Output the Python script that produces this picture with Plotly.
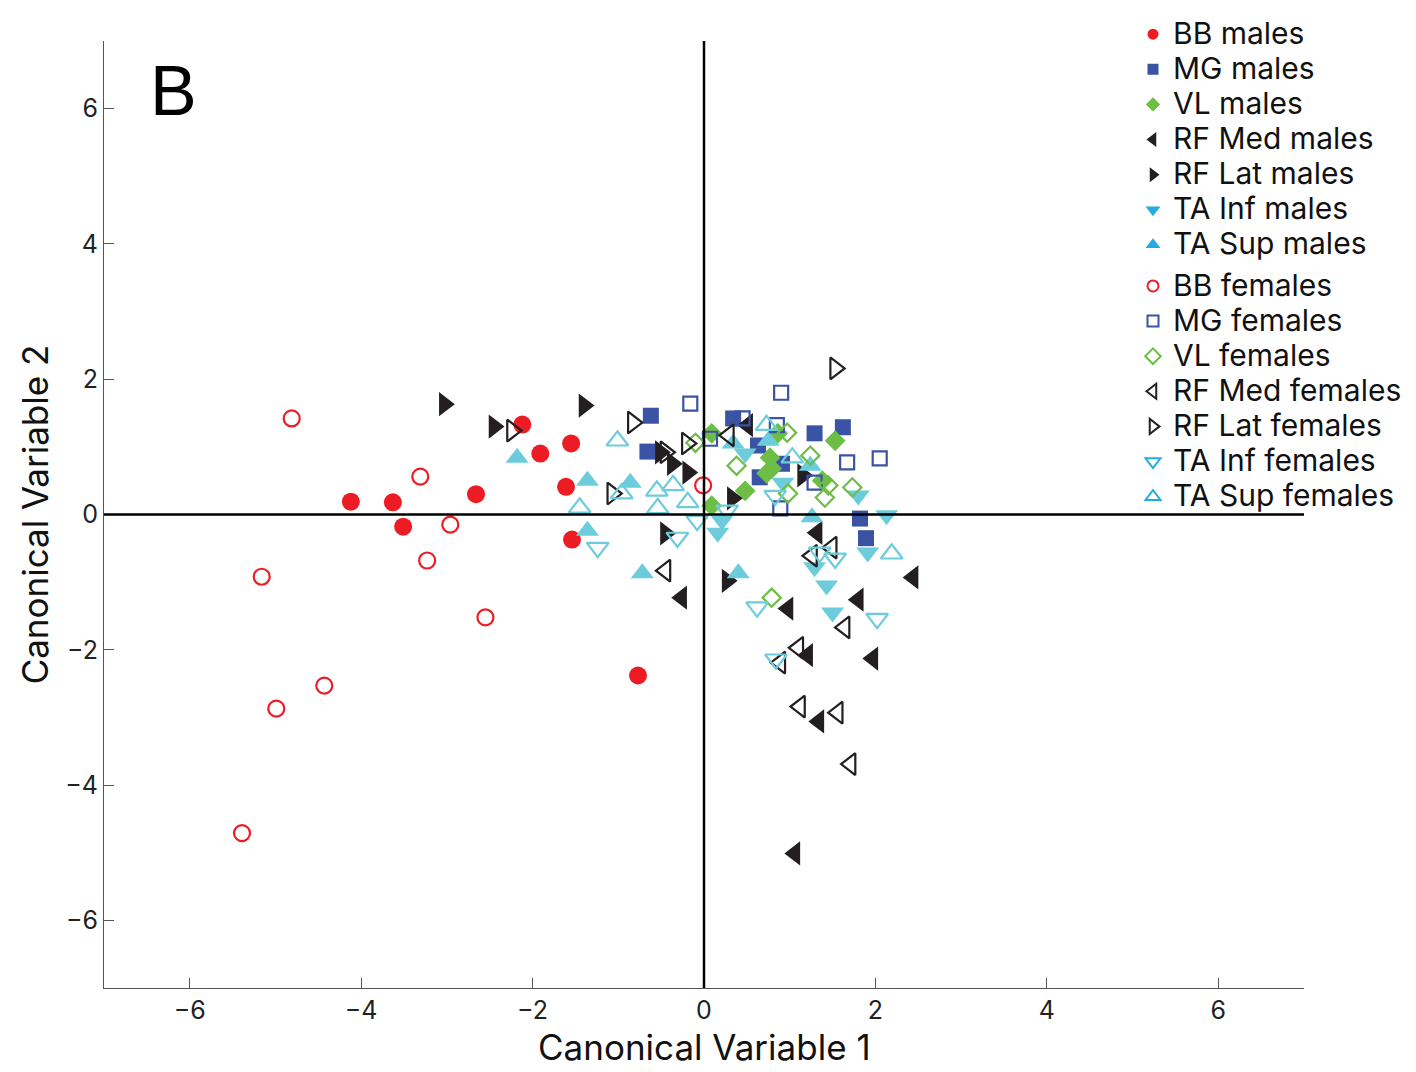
import plotly.graph_objects as go

# ---------------- data ----------------
bb_m_x = [-2.12, -1.91, -1.55, -1.61, -2.66, -4.12, -3.63, -3.51, -1.54, -0.77]
bb_m_y = [1.33, 0.90, 1.05, 0.41, 0.30, 0.19, 0.18, -0.18, -0.37, -2.38]

mg_m_x = [-0.62, -0.66, 0.34, 0.63, 0.65, 0.91, 1.29, 1.62, 1.82, 1.89]
mg_m_y = [1.46, 0.93, 1.42, 1.02, 0.55, 0.75, 1.20, 1.29, -0.06, -0.35]

vl_m_x = [0.09, 0.86, 1.53, 0.77, 0.79, 0.73, 1.38, 0.48, 0.09]
vl_m_y = [1.20, 1.20, 1.09, 0.84, 0.68, 0.61, 0.50, 0.35, 0.13]

rfmed_m_x = [0.51, 1.32, 2.44, -0.26, 0.98, 1.80, 1.21, 1.97, 1.34, 1.06]
rfmed_m_y = [1.32, -0.27, -0.93, -1.23, -1.39, -1.26, -2.08, -2.13, -3.06, -5.01]

rflat_m_x = [-3.03, -2.45, -1.40, -0.51, -0.37, -0.19, -0.45, 0.33, 1.15, 0.27]
rflat_m_y = [1.63, 1.30, 1.61, 0.92, 0.75, 0.62, -0.28, 0.24, 0.58, -0.98]

tainf_m_x = [0.16, 0.21, 0.48, 0.92, 1.80, 2.13, 1.91, 1.29, 1.43, 1.50]
tainf_m_y = [-0.27, -0.09, 0.90, 0.47, 0.28, -0.01, -0.56, -0.78, -1.05, -1.45]

tasup_m_x = [-2.18, -1.36, -1.36, -0.86, -0.72, 0.40, 1.26, 0.34, 0.75, 1.24]
tasup_m_y = [0.84, 0.50, -0.24, 0.47, -0.87, -0.87, -0.04, 1.05, 1.09, 0.72]

bb_f_x = [-4.81, -3.31, -2.96, -3.23, -5.16, -2.55, -4.43, -4.99, -5.39, -0.01]
bb_f_y = [1.42, 0.56, -0.15, -0.68, -0.92, -1.52, -2.53, -2.87, -4.71, 0.43]

mg_f_x = [-0.16, 0.90, 0.45, 0.85, 1.67, 2.05, 1.29, 0.89, 0.07]
mg_f_y = [1.64, 1.80, 1.42, 1.32, 0.77, 0.83, 0.47, 0.09, 1.12]

vl_f_x = [-0.10, 0.97, 0.38, 1.24, 1.45, 1.41, 1.73, 0.98, 0.79]
vl_f_y = [1.06, 1.21, 0.72, 0.87, 0.43, 0.25, 0.40, 0.31, -1.23]

rfmed_f_x = [0.29, -0.45, 1.49, 1.26, 1.64, 1.10, 0.89, 1.12, 1.56, 1.71]
rfmed_f_y = [1.17, -0.83, -0.49, -0.61, -1.67, -1.97, -2.19, -2.84, -2.93, -3.69]

rflat_f_x = [1.53, -2.24, -0.83, -1.07, -0.20, -0.45]
rflat_f_y = [2.16, 1.24, 1.36, 0.31, 1.05, 0.92]

tainf_f_x = [-1.24, -0.31, -0.08, 0.62, 0.84, 1.35, 1.53, 2.02, 0.83, 0.27]
tainf_f_y = [-0.49, -0.34, -0.09, -1.37, -2.14, -0.56, -0.65, -1.54, 0.28, 0.06]

tasup_f_x = [-1.01, -1.45, -0.96, -0.55, -0.54, -0.36, -0.19, 0.73, 1.03, 2.19]
tasup_f_y = [1.09, 0.10, 0.31, 0.35, 0.09, 0.43, 0.18, 1.32, 0.84, -0.58]

x_ticks = [-6, -4, -2, 0, 2, 4, 6]
y_ticks = [-6, -4, -2, 0, 2, 4, 6]

x_title = "Canonical Variable 1"
y_title = "Canonical Variable 2"

# ---------------- styles ----------------
RED = "#ED1C24"
BLUE = "#3A53A4"
GREEN = "#6CBE45"
BLACK = "#231F20"
CYAN = "#6DCCDB"
CYAN_LEG = "#27AAE1"

FONT = "Inter, Liberation Sans, Arial, sans-serif"
FONT_B = "Liberation Sans, Arial, Helvetica, sans-serif"

series = [
    ("BB males", bb_m_x, bb_m_y, "circle", RED, RED, 18, 11, "males"),
    ("MG males", mg_m_x, mg_m_y, "square", BLUE, BLUE, 16, 11, "males"),
    ("VL males", vl_m_x, vl_m_y, "diamond", GREEN, GREEN, 16, 11, "males"),
    ("RF Med males", rfmed_m_x, rfmed_m_y, "triangle-left", BLACK, BLACK, 21, 13, "males"),
    ("RF Lat males", rflat_m_x, rflat_m_y, "triangle-right", BLACK, BLACK, 21, 13, "males"),
    ("TA Inf males", tainf_m_x, tainf_m_y, "triangle-down", CYAN, CYAN_LEG, 20, 13, "males"),
    ("TA Sup males", tasup_m_x, tasup_m_y, "triangle-up", CYAN, CYAN_LEG, 20, 13, "males"),
    ("BB females", bb_f_x, bb_f_y, "circle-open", RED, RED, 16, 11, "females"),
    ("MG females", mg_f_x, mg_f_y, "square-open", BLUE, BLUE, 14, 11, "females"),
    ("VL females", vl_f_x, vl_f_y, "diamond-open", GREEN, GREEN, 14, 12, "females"),
    ("RF Med females", rfmed_f_x, rfmed_f_y, "triangle-left-open", BLACK, BLACK, 19, 13, "females"),
    ("RF Lat females", rflat_f_x, rflat_f_y, "triangle-right-open", BLACK, BLACK, 19, 13, "females"),
    ("TA Inf females", tainf_f_x, tainf_f_y, "triangle-down-open", CYAN, CYAN_LEG, 19, 13, "females"),
    ("TA Sup females", tasup_f_x, tasup_f_y, "triangle-up-open", CYAN, CYAN_LEG, 19, 13, "females"),
]

fig = go.Figure()

# data traces
for name, xs, ys, sym, col, lcol, size, lsize, grp in series:
    is_open = sym.endswith("-open")
    fig.add_trace(go.Scatter(
        x=xs, y=ys, mode="markers", name=name, showlegend=False,
        marker=dict(symbol=sym, color=col, size=size,
                    line=dict(width=2.2 if is_open else 0, color=col)),
        hoverinfo="x+y+name",
    ))

# legend-only entries (smaller markers, legend colours)
LEG_TEXT = 30
for name, xs, ys, sym, col, lcol, size, lsize, grp in series:
    is_open = sym.endswith("-open")
    fig.add_trace(go.Scatter(
        x=[None], y=[None], mode="markers",
        name='<span style="font-size:%dpx">%s</span>' % (LEG_TEXT, name),
        legendgroup=grp,
        marker=dict(symbol=sym, color=lcol, size=lsize,
                    line=dict(width=2 if is_open else 0, color=lcol)),
    ))

axis_common = dict(
    showgrid=False, zeroline=False, showline=True, linecolor="#555555", linewidth=1,
    ticks="inside", ticklen=10, tickcolor="#555555", tickwidth=1,
    tickfont=dict(family=FONT, size=25, color="#222222"),
    mirror=False,
)

# full-window figure (body margin removed below); plot area x 104..1304, y 41..988
fig.update_layout(
    width=1416, height=1072,
    paper_bgcolor="white", plot_bgcolor="white",
    margin=dict(l=104, r=112, t=41, b=84, autoexpand=False),
    font=dict(family=FONT, color="#111111"),
    xaxis=dict(range=[-7, 7], tickvals=x_ticks, autorange=False, **axis_common),
    yaxis=dict(range=[-7, 7], tickvals=y_ticks, autorange=False,
               title=dict(text=y_title, font=dict(family=FONT, size=35, color="#111111"), standoff=6),
               **axis_common),
    legend=dict(x=0.8575, y=1.031, xanchor="left", yanchor="top",
                font=dict(family=FONT, size=24.7, color="#111111"),
                bgcolor="rgba(0,0,0,0)", traceorder="grouped", tracegroupgap=6,
                itemsizing="trace"),
    shapes=[
        dict(type="line", xref="x", yref="paper", x0=0, x1=0, y0=0, y1=1,
             line=dict(color="black", width=2.5), layer="above"),
        dict(type="line", xref="paper", yref="y", x0=0, x1=1, y0=0, y1=0,
             line=dict(color="black", width=2.5), layer="above"),
    ],
    annotations=[
        dict(text="B", xref="paper", yref="paper", x=0.037, y=0.99,
             xanchor="left", yanchor="top", showarrow=False,
             font=dict(family=FONT_B, size=70, color="black")),
        dict(text=x_title, xref="paper", yref="paper", x=0.5, y=-0.0623,
             xanchor="center", yanchor="middle", showarrow=False, borderpad=0,
             font=dict(family=FONT, size=35, color="#111111")),
    ],
)

fig.write_html(
    "out.html",
    config={"displayModeBar": False},
    post_script="document.body.style.margin='0';document.body.style.overflow='hidden';",
)
